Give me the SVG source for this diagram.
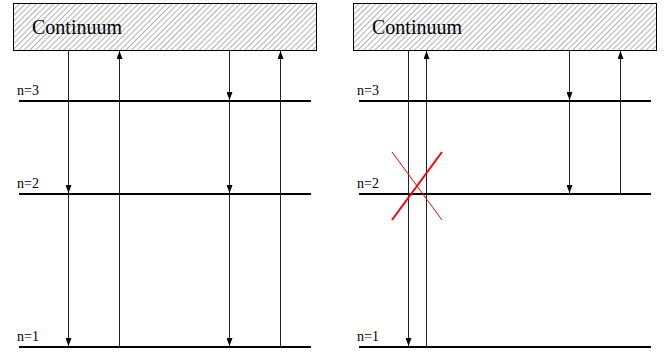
<svg xmlns="http://www.w3.org/2000/svg" width="664" height="355" viewBox="0 0 664 355">
<defs>
<pattern id="hatch" patternUnits="userSpaceOnUse" width="4" height="4" patternTransform="rotate(45)">
<line x1="0" y1="0" x2="0" y2="4" stroke="#555" stroke-width="0.9"/>
</pattern>
<marker id="ah" viewBox="0 0 8 6" refX="8" refY="3" markerWidth="8" markerHeight="6" markerUnits="userSpaceOnUse" orient="auto">
<path d="M0,0 L8,3 L0,6 Z" fill="#000"/>
</marker>
</defs>
<style>
.box{fill:url(#hatch);stroke:#000;stroke-width:1}
.ttl{font-family:"Liberation Serif","Times New Roman","DejaVu Serif",serif;font-size:20px;fill:#000}
.lbl{font-family:"Liberation Serif","Times New Roman","DejaVu Serif",serif;font-size:14px;fill:#000}
.lvl{stroke:#000;stroke-width:2}
.ar{stroke:#222;stroke-width:1;fill:none;marker-end:url(#ah)}
</style>
<rect width="664" height="355" fill="#fff"/>

<g id="left-continuum">
<rect class="box" x="13.5" y="3.5" width="303" height="47"/>
<text class="ttl" x="32" y="34">Continuum</text>
</g>
<g id="left-n3"><line class="lvl" x1="19" y1="101" x2="311" y2="101"/><text class="lbl" x="17" y="95">n=3</text></g>
<g id="left-n2"><line class="lvl" x1="19" y1="194" x2="311" y2="194"/><text class="lbl" x="17" y="188">n=2</text></g>
<g id="left-n1"><line class="lvl" x1="19" y1="347" x2="311" y2="347"/><text class="lbl" x="17" y="341">n=1</text></g>

<g id="right-continuum">
<rect class="box" x="353.5" y="3.5" width="303" height="47"/>
<text class="ttl" x="372" y="34">Continuum</text>
</g>
<g id="right-n3"><line class="lvl" x1="359" y1="101" x2="651" y2="101"/><text class="lbl" x="357" y="95">n=3</text></g>
<g id="right-n2"><line class="lvl" x1="359" y1="194" x2="651" y2="194"/><text class="lbl" x="357" y="188">n=2</text></g>
<g id="right-n1"><line class="lvl" x1="359" y1="347" x2="651" y2="347"/><text class="lbl" x="357" y="341">n=1</text></g>

<g id="connectors">
<line class="ar" x1="68.5" y1="51" x2="68.5" y2="193"/>
<line class="ar" x1="68.5" y1="194" x2="68.5" y2="346"/>
<line class="ar" x1="119.5" y1="347" x2="119.5" y2="51"/>
<line class="ar" x1="229.5" y1="51" x2="229.5" y2="100"/>
<line class="ar" x1="229.5" y1="101" x2="229.5" y2="193"/>
<line class="ar" x1="229.5" y1="194" x2="229.5" y2="346"/>
<line class="ar" x1="280.5" y1="347" x2="280.5" y2="51"/>

<line class="ar" x1="408.5" y1="51" x2="408.5" y2="346"/>
<line class="ar" x1="426.5" y1="347" x2="426.5" y2="51"/>
<line class="ar" x1="569.5" y1="51" x2="569.5" y2="100"/>
<line class="ar" x1="569.5" y1="101" x2="569.5" y2="193"/>
<line class="ar" x1="620.5" y1="194" x2="620.5" y2="51"/>
</g>
<g id="cross">
<line x1="392" y1="220" x2="442" y2="152" stroke="#f00" stroke-width="2"/>
<line x1="392" y1="152" x2="442" y2="220" stroke="#f00" stroke-width="1"/>
</g>
</svg>
